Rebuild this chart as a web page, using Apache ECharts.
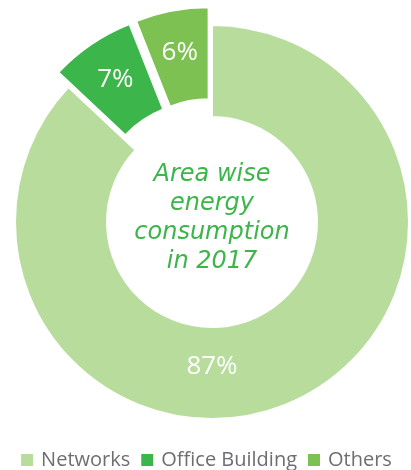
<!DOCTYPE html>
<html>
<head>
<meta charset="utf-8">
<script src="https://cdn.jsdelivr.net/npm/echarts@6/dist/echarts.min.js"></script>
<style>
html,body{margin:0;padding:0;background:#fff;}
#chart{width:411px;height:470px;}
</style>
</head>
<body>
<div id="chart"></div>
<script>
var categories = ['Networks', 'Office Building', 'Others'];
var values = [87, 7, 6];
var exploded = [false, true, true];
var colors = ['#b8dc9c', '#3cb54a', '#7dc153'];
var centerTitle = 'Area wise\nenergy\nconsumption\nin 2017';

var CX = 212, CY = 222, R_IN = 105, R_OUT = 197;
var FONT = '"Open Sans", "DejaVu Sans", sans-serif';

var chart = echarts.init(document.getElementById('chart'), null, {renderer: 'canvas'});
chart.setOption({
  animation: false,
  color: colors,
  legend: {
    data: categories,
    top: 445,
    left: 'center',
    icon: 'rect',
    itemWidth: 14,
    itemHeight: 14,
    itemGap: 9,
    selectedMode: false,
    textStyle: {fontFamily: FONT, fontSize: 20, color: '#6d6e71', padding: [0, 0, 0, 2]}
  },
  graphic: [{
    type: 'text',
    x: CX,
    y: CY - 4,
    style: {
      text: centerTitle,
      x: 0, y: 0,
      align: 'center',
      verticalAlign: 'middle',
      fill: '#3cb54a',
      font: 'italic 24px "DejaVu Sans", sans-serif',
      lineHeight: 29
    }
  }],
  series: [{
    type: 'pie',
    center: [CX, CY],
    radius: [R_IN, R_OUT],
    startAngle: 90,
    clockwise: true,
    selectedMode: 'multiple',
    selectedOffset: 18,
    avoidLabelOverlap: false,
    itemStyle: {borderColor: '#fff', borderWidth: 2},
    emphasis: {disabled: true},
    label: {
      show: true,
      position: 'inside',
      formatter: '{c}%',
      color: '#fff',
      fontFamily: FONT,
      fontSize: 26
    },
    labelLine: {show: false},
    labelLayout: function (p) {
      if (p.dataIndex === 0) {
        return {x: CX, y: CY + 145, align: 'center', verticalAlign: 'middle'};
      }
    },
    data: categories.map(function (c, i) {
      return {name: c, value: values[i], selected: exploded[i]};
    })
  }]
});
</script>
</body>
</html>
